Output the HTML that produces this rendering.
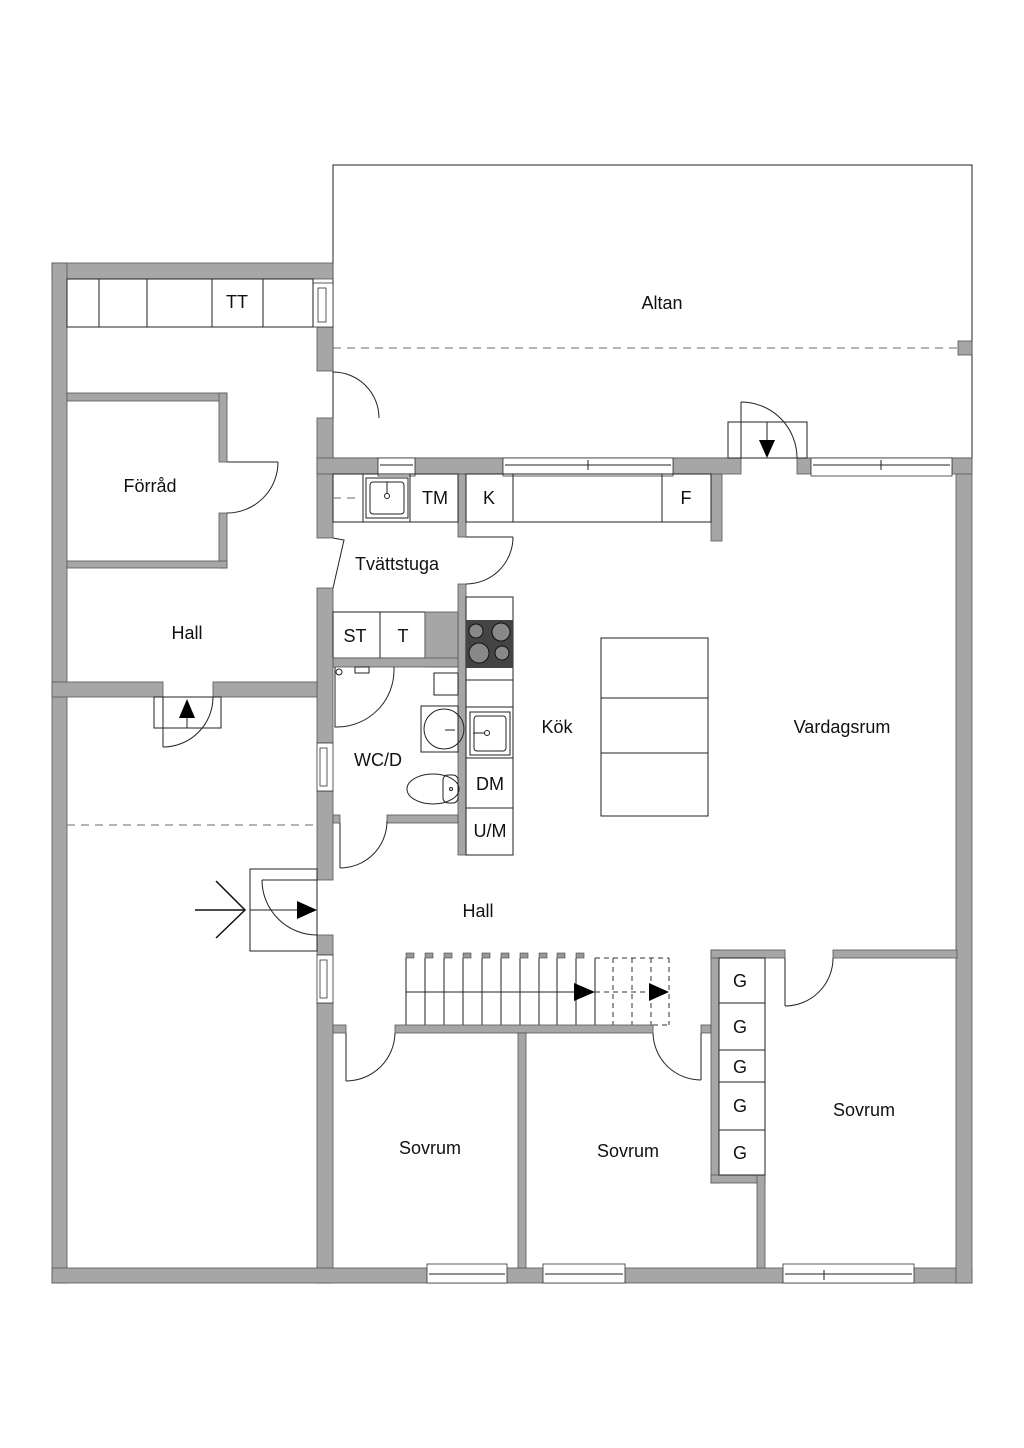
<!DOCTYPE html>
<html><head><meta charset="utf-8"><style>
html,body{margin:0;padding:0;background:#fff;}
svg{display:block;}
text{font-family:"Liberation Sans",sans-serif;font-size:18px;fill:#111;text-anchor:middle;dominant-baseline:central;}
.w{fill:#a6a6a6;stroke:#555;stroke-width:0.8;}
.l{fill:none;stroke:#222;stroke-width:1;}
.d{fill:none;stroke:#888;stroke-width:1.2;stroke-dasharray:8 6;}
.win{fill:#fff;stroke:#333;stroke-width:0.8;}
</style></head><body>
<svg width="1024" height="1448" viewBox="0 0 1024 1448" xmlns="http://www.w3.org/2000/svg">
<!-- Altan -->
<rect x="333" y="165" width="639" height="293" class="l"/>
<line x1="333" y1="348" x2="958" y2="348" class="d"/>
<rect x="958" y="341" width="14" height="14" class="w"/>
<text x="662" y="303">Altan</text>

<!-- Left wing walls -->
<rect x="52" y="263" width="281" height="16" class="w"/>
<rect x="52" y="263" width="15" height="1020" class="w"/>
<rect x="317" y="327" width="16" height="44" class="w"/>
<rect x="317" y="418" width="16" height="120" class="w"/>
<rect x="317" y="588" width="16" height="155" class="w"/>
<rect x="317" y="791" width="16" height="89" class="w"/>
<rect x="317" y="935" width="16" height="20" class="w"/>
<rect x="317" y="1003" width="16" height="280" class="w"/>
<!-- windows left wing -->
<rect x="313" y="283" width="20" height="44" class="win"/><rect x="318" y="288" width="8" height="34" class="win"/>
<rect x="317" y="743" width="16" height="48" class="win"/><rect x="320" y="748" width="7" height="38" class="win"/>
<rect x="317" y="955" width="16" height="48" class="win"/><rect x="320" y="960" width="7" height="38" class="win"/>
<!-- TT row -->
<rect x="67" y="279" width="246" height="48" class="l"/>
<line x1="99" y1="279" x2="99" y2="327" class="l"/><line x1="147" y1="279" x2="147" y2="327" class="l"/>
<line x1="212" y1="279" x2="212" y2="327" class="l"/><line x1="263" y1="279" x2="263" y2="327" class="l"/>
<text x="237" y="302">TT</text>
<!-- door to altan from left wing -->
<line x1="333" y1="371" x2="333" y2="418" class="l"/>
<path d="M333,372 A46,46 0 0 1 379,418" class="l"/>
<!-- Förråd -->
<rect x="67" y="393" width="160" height="8" class="w"/>
<rect x="219" y="393" width="8" height="69" class="w"/>
<rect x="219" y="513" width="8" height="55" class="w"/>
<rect x="67" y="561" width="160" height="7" class="w"/>
<line x1="227" y1="462" x2="278" y2="462" class="l"/>
<path d="M278,462 A51,51 0 0 1 227,513" class="l"/>
<text x="150" y="486">Förråd</text>
<text x="187" y="633">Hall</text>
<!-- Hall bottom wall -->
<rect x="52" y="682" width="111" height="15" class="w"/>
<rect x="213" y="682" width="104" height="15" class="w"/>
<rect x="154" y="697" width="67" height="31" class="l"/>
<line x1="163" y1="697" x2="163" y2="747" class="l"/>
<path d="M163,747 A50,50 0 0 0 213,697" class="l"/>
<line x1="187" y1="718" x2="187" y2="728" class="l"/>
<polygon points="187,699 179,718 195,718" fill="#000"/>
<line x1="67" y1="825" x2="317" y2="825" class="d"/>
<!-- Entry -->
<rect x="250" y="869" width="67" height="82" class="l"/>
<line x1="262" y1="880" x2="317" y2="880" class="l"/>
<path d="M262,880 A55,55 0 0 0 317,935" class="l"/>
<line x1="250" y1="910" x2="298" y2="910" class="l"/>
<polygon points="297,901 317,910 297,919" fill="#000"/>
<line x1="195" y1="910" x2="245" y2="910" stroke="#111" stroke-width="1.5"/>
<polyline points="216,881 245,910 216,938" fill="none" stroke="#111" stroke-width="1.5"/>

<!-- Main house bottom -->
<rect x="52" y="1268" width="920" height="15" class="w"/>
<rect x="956" y="458" width="16" height="825" class="w"/>
<!-- main top wall -->
<rect x="317" y="458" width="61" height="16" class="w"/>
<rect x="415" y="458" width="88" height="16" class="w"/>
<rect x="673" y="458" width="68" height="16" class="w"/>
<rect x="711" y="474" width="11" height="67" class="w"/>
<rect x="797" y="458" width="14" height="16" class="w"/>
<rect x="952" y="458" width="20" height="16" class="w"/>
<rect x="378" y="458" width="37" height="18" class="win"/><line x1="380" y1="465" x2="413" y2="465" class="l"/>
<rect x="503" y="458" width="170" height="18" class="win"/><line x1="505" y1="465" x2="671" y2="465" class="l"/><line x1="588" y1="460" x2="588" y2="470" class="l"/>
<rect x="811" y="458" width="141" height="18" class="win"/><line x1="813" y1="465" x2="950" y2="465" class="l"/><line x1="881" y1="460" x2="881" y2="470" class="l"/>
<!-- Altan door -->
<rect x="728" y="422" width="79" height="36" class="l"/>
<line x1="741" y1="458" x2="741" y2="402" class="l"/>
<path d="M741,402 A56,56 0 0 1 797,458" class="l"/>
<line x1="767" y1="422" x2="767" y2="440" class="l"/>
<polygon points="759,440 775,440 767,458" fill="#000"/>

<!-- Laundry -->
<rect x="458" y="474" width="8" height="63" class="w"/>
<rect x="458" y="584" width="8" height="271" class="w"/>
<rect x="333" y="474" width="125" height="48" class="l"/>
<line x1="363" y1="474" x2="363" y2="522" class="l"/><line x1="410" y1="474" x2="410" y2="522" class="l"/>
<line x1="333" y1="498" x2="360" y2="498" class="d"/>
<rect x="366" y="478" width="42" height="40" class="l"/><rect x="370" y="482" width="34" height="32" rx="3" class="l"/>
<circle cx="387" cy="496" r="2.5" class="l"/><line x1="387" y1="482" x2="387" y2="494" class="l"/>
<text x="435" y="498">TM</text>
<rect x="466" y="474" width="245" height="48" class="l"/>
<line x1="513" y1="474" x2="513" y2="522" class="l"/><line x1="662" y1="474" x2="662" y2="522" class="l"/>
<text x="489" y="498">K</text><text x="686" y="498">F</text>
<polyline points="333,538 344,540 333,588" class="l"/>
<text x="397" y="564">Tvättstuga</text>
<line x1="466" y1="537" x2="513" y2="537" class="l"/>
<path d="M513,537 A47,47 0 0 1 466,584" class="l"/>
<rect x="333" y="612" width="92" height="46" class="l"/>
<line x1="380" y1="612" x2="380" y2="658" class="l"/>
<text x="355" y="636">ST</text><text x="403" y="636">T</text>
<rect x="425" y="612" width="33" height="55" class="w" stroke="none"/>
<rect x="333" y="658" width="125" height="9" class="w"/>

<!-- WC -->
<path d="M335,667 L335,727 L338,727 A57,57 0 0 0 394,670 L394,667" class="l"/>
<circle cx="339" cy="672" r="3" class="l"/>
<rect x="355" y="667" width="14" height="6" class="l"/>
<rect x="434" y="673" width="24" height="22" class="l"/>
<rect x="421" y="706" width="37" height="46" class="l"/>
<ellipse cx="444" cy="729" rx="20" ry="20" class="l"/>
<line x1="445" y1="730" x2="455" y2="730" class="l"/>
<text x="378" y="760">WC/D</text>
<ellipse cx="433" cy="789" rx="26" ry="15" class="l"/>
<rect x="443" y="775" width="15" height="28" rx="5" fill="#fff" class="l"/>
<circle cx="451" cy="789" r="1.5" class="l"/>
<rect x="333" y="815" width="7" height="8" class="w"/>
<rect x="387" y="815" width="71" height="8" class="w"/>
<line x1="340" y1="823" x2="340" y2="868" class="l"/>
<path d="M340,868 A47,47 0 0 0 387,821" class="l"/>

<!-- Kitchen column -->
<rect x="466" y="597" width="47" height="258" class="l"/>
<rect x="466" y="620" width="47" height="48" fill="#444"/>
<circle cx="476" cy="631" r="7" fill="#888" stroke="#111"/><circle cx="501" cy="632" r="9" fill="#888" stroke="#111"/>
<circle cx="479" cy="653" r="10" fill="#888" stroke="#111"/><circle cx="502" cy="653" r="7" fill="#888" stroke="#111"/>
<line x1="466" y1="680" x2="513" y2="680" class="l"/>
<line x1="466" y1="707" x2="513" y2="707" class="l"/>
<rect x="470" y="712" width="40" height="43" class="l"/><rect x="474" y="716" width="32" height="35" rx="3" class="l"/>
<circle cx="487" cy="733" r="2.5" class="l"/><line x1="473" y1="733" x2="485" y2="733" class="l"/>
<line x1="466" y1="758" x2="513" y2="758" class="l"/>
<line x1="466" y1="808" x2="513" y2="808" class="l"/>
<text x="490" y="784">DM</text><text x="490" y="831">U/M</text>
<text x="557" y="727">Kök</text>
<rect x="601" y="638" width="107" height="178" class="l"/>
<line x1="601" y1="698" x2="708" y2="698" class="l"/><line x1="601" y1="753" x2="708" y2="753" class="l"/>
<text x="842" y="727">Vardagsrum</text>
<text x="478" y="911">Hall</text>

<!-- Stairs -->
<g class="l">
<line x1="406" y1="958" x2="406" y2="1025"/><line x1="425" y1="958" x2="425" y2="1025"/><line x1="444" y1="958" x2="444" y2="1025"/>
<line x1="463" y1="958" x2="463" y2="1025"/><line x1="482" y1="958" x2="482" y2="1025"/><line x1="501" y1="958" x2="501" y2="1025"/>
<line x1="520" y1="958" x2="520" y2="1025"/><line x1="539" y1="958" x2="539" y2="1025"/><line x1="557" y1="958" x2="557" y2="1025"/>
<line x1="576" y1="958" x2="576" y2="1025"/><line x1="595" y1="958" x2="595" y2="1025"/>
<line x1="406" y1="992" x2="576" y2="992"/>
</g>
<g fill="#999" stroke="#444" stroke-width="0.6">
<rect x="406" y="953" width="8" height="5"/><rect x="425" y="953" width="8" height="5"/><rect x="444" y="953" width="8" height="5"/>
<rect x="463" y="953" width="8" height="5"/><rect x="482" y="953" width="8" height="5"/><rect x="501" y="953" width="8" height="5"/>
<rect x="520" y="953" width="8" height="5"/><rect x="539" y="953" width="8" height="5"/><rect x="557" y="953" width="8" height="5"/>
<rect x="576" y="953" width="8" height="5"/>
</g>
<g fill="none" stroke="#333" stroke-width="1" stroke-dasharray="5 4">
<line x1="595" y1="958" x2="669" y2="958"/><line x1="613" y1="958" x2="613" y2="1025"/><line x1="632" y1="958" x2="632" y2="1025"/>
<line x1="651" y1="958" x2="651" y2="1025"/><line x1="669" y1="958" x2="669" y2="1025"/><line x1="653" y1="1025" x2="669" y2="1025"/>
<line x1="595" y1="992" x2="650" y2="992"/>
</g>
<polygon points="574,983 595,992 574,1001" fill="#000"/>
<polygon points="649,983 669,992 649,1001" fill="#000"/>

<!-- Bedroom walls -->
<rect x="333" y="1025" width="13" height="8" class="w"/>
<rect x="395" y="1025" width="258" height="8" class="w"/>
<rect x="701" y="1025" width="10" height="8" class="w"/>
<rect x="518" y="1033" width="8" height="235" class="w"/>
<line x1="346" y1="1033" x2="346" y2="1081" class="l"/>
<path d="M346,1081 A49,49 0 0 0 395,1033" class="l"/>
<line x1="701" y1="1033" x2="701" y2="1080" class="l"/>
<path d="M701,1080 A48,48 0 0 1 653,1033" class="l"/>
<!-- G closet -->
<rect x="711" y="950" width="8" height="233" class="w"/>
<rect x="711" y="950" width="74" height="8" class="w"/>
<rect x="833" y="950" width="124" height="8" class="w"/>
<rect x="711" y="1175" width="54" height="8" class="w"/>
<rect x="757" y="1175" width="8" height="93" class="w"/>
<rect x="719" y="958" width="46" height="217" class="l"/>
<line x1="719" y1="1003" x2="765" y2="1003" class="l"/><line x1="719" y1="1050" x2="765" y2="1050" class="l"/>
<line x1="719" y1="1082" x2="765" y2="1082" class="l"/><line x1="719" y1="1130" x2="765" y2="1130" class="l"/>
<text x="740" y="981">G</text><text x="740" y="1027">G</text><text x="740" y="1067">G</text><text x="740" y="1106">G</text><text x="740" y="1153">G</text>
<line x1="785" y1="958" x2="785" y2="1006" class="l"/>
<path d="M785,1006 A48,48 0 0 0 833,958" class="l"/>
<text x="430" y="1148">Sovrum</text>
<text x="628" y="1151">Sovrum</text>
<text x="864" y="1110">Sovrum</text>
<!-- bottom windows -->
<rect x="427" y="1264" width="80" height="19" class="win"/><line x1="429" y1="1274" x2="505" y2="1274" class="l"/>
<rect x="543" y="1264" width="82" height="19" class="win"/><line x1="545" y1="1274" x2="623" y2="1274" class="l"/>
<rect x="783" y="1264" width="131" height="19" class="win"/><line x1="785" y1="1274" x2="912" y2="1274" class="l"/><line x1="824" y1="1270" x2="824" y2="1280" class="l"/>
</svg>
</body></html>
